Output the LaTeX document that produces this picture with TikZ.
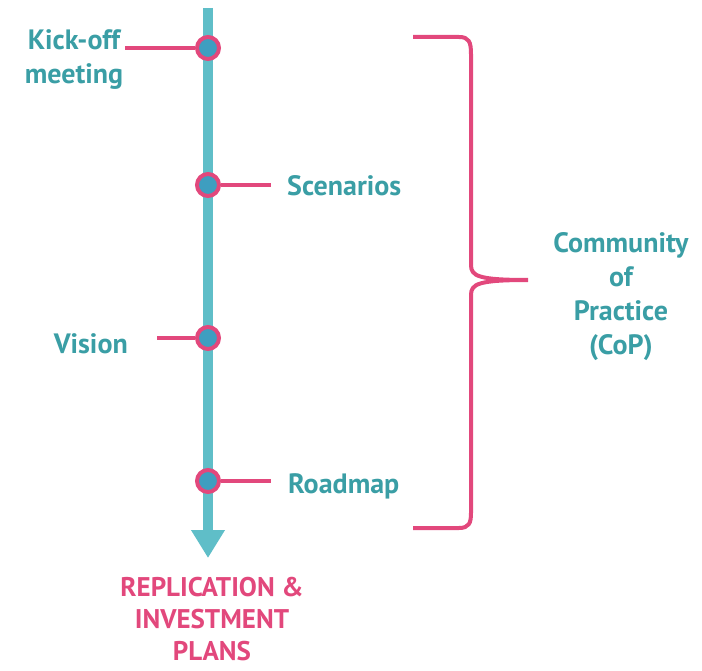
\documentclass[tikz,border=0pt]{standalone}
\usepackage{fontspec}
\setmainfont{PT Sans}
\usetikzlibrary{arrows.meta,positioning,calc}
\definecolor{copteal}{RGB}{95,190,200}
\definecolor{coptext}{RGB}{58,158,165}
\definecolor{coppink}{RGB}{226,72,124}
\definecolor{copdot}{RGB}{62,158,192}

\begin{document}
\begin{tikzpicture}[x=1pt, y=-1pt,
    every node/.style={font=\fontsize{28}{34}\selectfont\bfseries},
    lbl/.style={text=coptext, align=center, inner sep=0pt},
    milestone/.style={circle, draw=coppink, line width=4pt, fill=copdot, minimum size=22pt, inner sep=0pt},
    tick/.style={draw=coppink, line width=4pt},
    axis/.style={draw=copteal, line width=10pt, -{Triangle[width=32pt,length=28pt]}}]
    \useasboundingbox (0,0) rectangle (702,671);

    % timeline
    \coordinate (top) at (208,8);
    \coordinate (tip) at (208,558);
    \draw[axis] (top) -- (tip);

    % milestones
    \node[milestone] (kick) at (208,48) {};
    \node[milestone] (scen) at (208,185) {};
    \node[milestone] (vision) at (208,338) {};
    \node[milestone] (road) at (208,481) {};

    \node[lbl] (kicklbl) at (74,60) {Kick-off\\meeting};
    \node[lbl, anchor=base west] (scenlbl) at (287,196) {Scenarios};
    \node[lbl, anchor=base east] (visionlbl) at (128,353) {Vision};
    \node[lbl, anchor=base west] (roadlbl) at (288,493) {Roadmap};

    \draw[tick, shorten >=2pt] (kick) -- (kick -| kicklbl.east);
    \draw[tick, shorten >=16pt] (scen) -- (scen -| scenlbl.west);
    \draw[tick, shorten >=29pt] (vision) -- (vision -| visionlbl.east);
    \draw[tick, shorten >=17pt] (road) -- (road -| roadlbl.west);

    % outcome
    \node[lbl, text=coppink, anchor=north, font=\fontsize{27}{32}\selectfont\bfseries] (plans) at (212,577) {REPLICATION \&\\INVESTMENT\\PLANS};

    % community of practice
    \draw[coppink, line width=4pt] (413,37) -- (459,37) .. controls (469,37) and (471,42) .. (471,54)
        -- (471,265) .. controls (471,276) and (478,280) .. (528,280)
        .. controls (478,280) and (471,284) .. (471,295)
        -- (471,513) .. controls (471,523) and (469,528) .. (459,528) -- (413,528);
    \node[lbl, anchor=north] (cop) at (621,232) {Community\\of\\Practice\\(CoP)};
\end{tikzpicture}
\end{document}
